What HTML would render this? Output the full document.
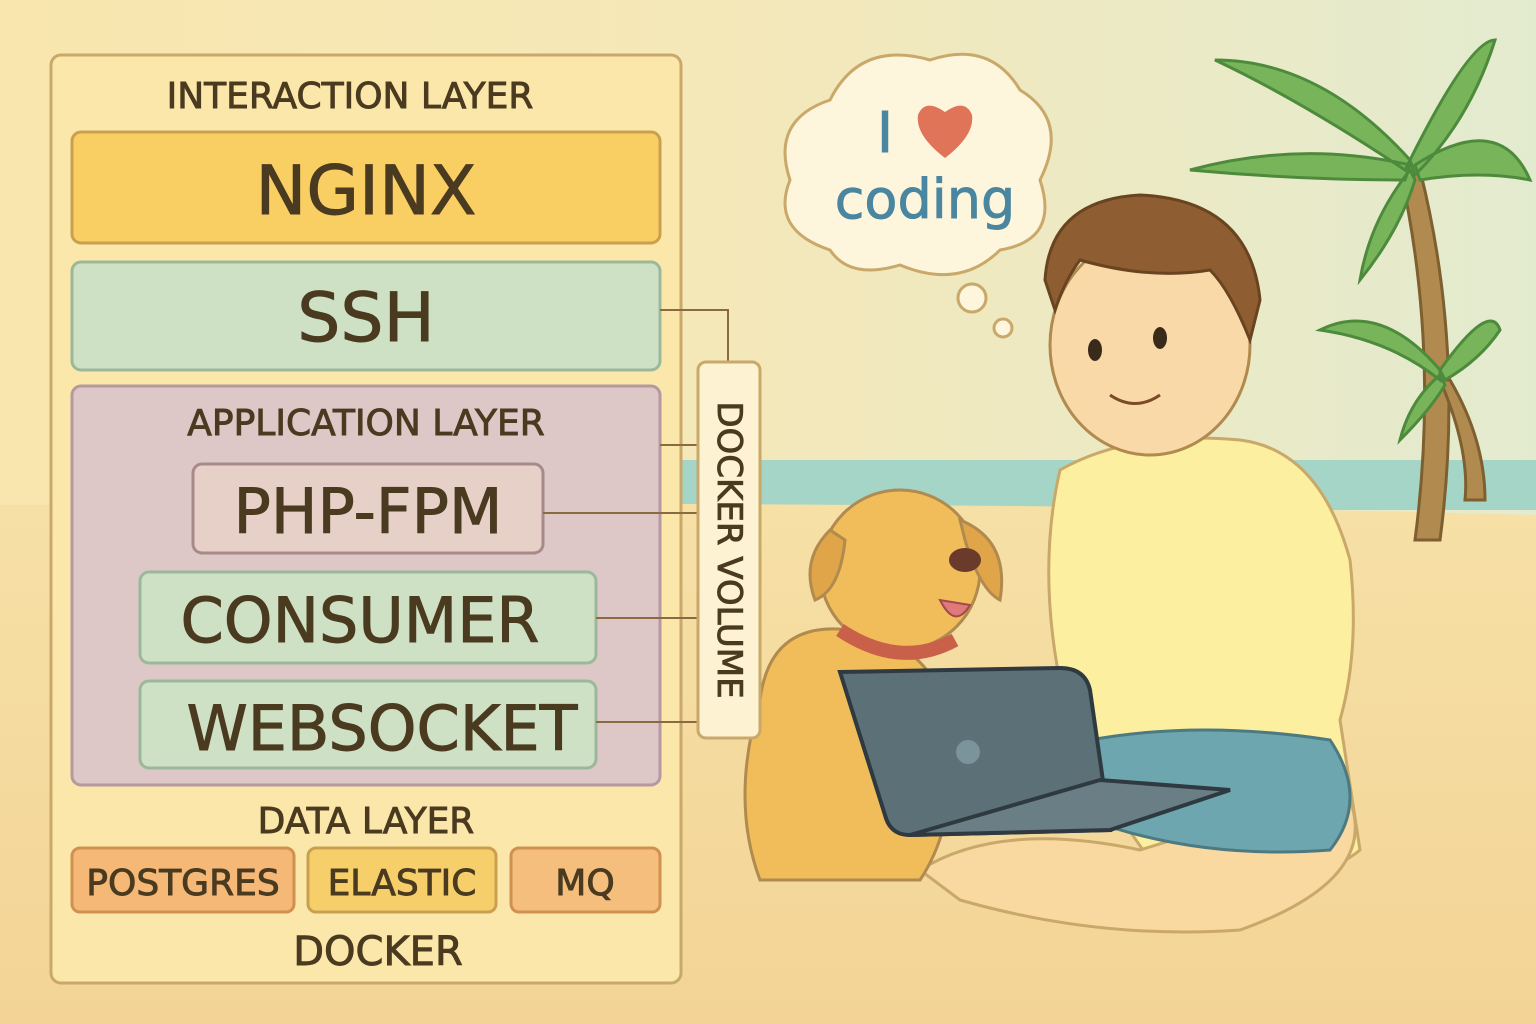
<!DOCTYPE html>
<html><head><meta charset="utf-8"><style>
html,body{margin:0;padding:0;width:1536px;height:1024px;overflow:hidden;background:#f8e6b0}
svg{display:block}
text{font-family:"DejaVu Sans","Liberation Sans",sans-serif;fill:#4a3a20;stroke:#4a3a20;stroke-width:0.9}
</style></head><body>
<svg width="1536" height="1024" viewBox="0 0 1536 1024">
<defs>
<linearGradient id="sky" x1="0" y1="0" x2="1" y2="0"><stop offset="0" stop-color="#f9e6ae"/><stop offset="0.45" stop-color="#f5e8b8"/><stop offset="1" stop-color="#e3ebcf"/></linearGradient>
<linearGradient id="sand" x1="0" y1="0" x2="0" y2="1"><stop offset="0" stop-color="#f6e0a6"/><stop offset="1" stop-color="#f3d496"/></linearGradient>
</defs>
<rect width="1536" height="1024" fill="url(#sky)"/>
<rect x="682" y="460" width="854" height="50" fill="#a4d5c6"/>
<path d="M0 505 Q1000 500 1536 515 L1536 1024 L0 1024 Z" fill="url(#sand)"/>

<g>
<path d="M1400 170 Q1440 350 1415 540 L1440 540 Q1465 350 1420 170 Z" fill="#b08a4e" stroke="#7e5f30" stroke-width="3"/>
<path d="M1410 160 Q1320 60 1215 60 Q1300 100 1405 170Z M1410 160 Q1470 40 1495 40 Q1470 120 1415 175Z M1410 165 Q1300 140 1190 170 Q1300 180 1405 180Z M1415 165 Q1500 110 1530 180 Q1480 170 1420 180Z M1410 170 Q1370 220 1360 280 Q1400 230 1415 180Z" fill="#78b55a" stroke="#4d8a3c" stroke-width="3"/>
<path d="M1440 380 Q1470 450 1465 500 L1485 500 Q1485 440 1450 380Z" fill="#b08a4e" stroke="#7e5f30" stroke-width="3"/>
<path d="M1440 370 Q1380 300 1320 330 Q1390 340 1440 380Z M1440 370 Q1490 300 1500 330 Q1480 360 1445 380Z M1440 375 Q1410 400 1400 440 Q1430 410 1445 385Z" fill="#78b55a" stroke="#4d8a3c" stroke-width="3"/>
</g>

<g>
<path d="M830 250 Q770 230 790 180 Q770 120 830 100 Q860 40 930 60 Q990 40 1020 90 Q1070 120 1040 180 Q1060 240 1000 250 Q960 290 900 265 Q850 280 830 250Z" fill="#fdf6dc" stroke="#c9a86a" stroke-width="3"/>
<circle cx="972" cy="298" r="14" fill="#fdf6dc" stroke="#c9a86a" stroke-width="3"/>
<circle cx="1003" cy="328" r="9" fill="#fdf6dc" stroke="#c9a86a" stroke-width="3"/>
<text x="885" y="152" font-size="56" style="fill:#4a86a0;stroke:#4a86a0" text-anchor="middle" font-family="Liberation Serif">I</text>
<path d="M945 158 Q915 135 918 115 Q925 98 945 112 Q965 98 972 115 Q975 135 945 158Z" fill="#e07458"/>
<text x="925" y="218" font-size="54" style="fill:#4a86a0;stroke:#4a86a0" text-anchor="middle">coding</text>
</g>

<g>
<path d="M1060 470 Q1130 430 1240 440 Q1320 450 1350 560 Q1360 650 1340 720 L1360 850 Q1300 900 1150 860 L1080 760 Q1030 600 1060 470Z" fill="#fcef9f" stroke="#c9a86a" stroke-width="3"/>
<path d="M920 870 Q1000 820 1140 850 Q1300 800 1350 800 Q1380 880 1240 930 Q1100 940 960 900 Z" fill="#f9d9a0" stroke="#c9a86a" stroke-width="3"/>
<path d="M1090 740 Q1200 720 1330 740 Q1370 800 1330 850 Q1200 860 1090 820Z" fill="#6ea6b0" stroke="#4d7a80" stroke-width="3"/>
<ellipse cx="1150" cy="345" rx="100" ry="110" fill="#fad9a8" stroke="#b08a4e" stroke-width="3"/>
<path d="M1045 280 Q1050 200 1140 195 Q1250 200 1260 300 L1250 340 Q1230 290 1210 270 Q1150 280 1080 260 Q1065 280 1055 310 Z" fill="#8e5e32" stroke="#6a4420" stroke-width="3"/>
<ellipse cx="1095" cy="350" rx="7" ry="11" fill="#3a2a1a"/>
<ellipse cx="1160" cy="338" rx="7" ry="11" fill="#3a2a1a"/>
<path d="M1110 395 Q1135 412 1160 395" fill="none" stroke="#7a4a2a" stroke-width="3"/>
</g>

<g>
<path d="M760 700 Q770 620 850 630 Q930 640 950 720 Q960 820 920 880 L760 880 Q730 800 760 700Z" fill="#f0bd5a" stroke="#b08a4e" stroke-width="3"/>
<ellipse cx="900" cy="570" rx="80" ry="80" fill="#f0bd5a" stroke="#b08a4e" stroke-width="3"/>
<path d="M830 530 Q800 560 815 600 Q840 590 845 540Z M960 520 Q1010 540 1000 600 Q980 590 965 540Z" fill="#e0a548" stroke="#b08a4e" stroke-width="3"/>
<path d="M840 630 Q900 670 955 640" fill="none" stroke="#c9604a" stroke-width="14"/>
<ellipse cx="965" cy="560" rx="16" ry="12" fill="#6a3a2a"/>
<path d="M940 600 Q955 630 970 605Z" fill="#e07a7a" stroke="#a04a4a" stroke-width="2"/>
</g>

<g>
<path d="M840 672 L1060 668 Q1085 668 1090 690 L1110 830 L910 835 Q890 835 885 815 Z" fill="#5c7078" stroke="#2f3a40" stroke-width="4"/>
<path d="M910 835 L1110 830 L1230 790 L1100 780Z" fill="#6a7e86" stroke="#2f3a40" stroke-width="4"/>
<circle cx="968" cy="752" r="12" fill="#7b939a"/>
</g>

<g>
<rect x="51" y="55" width="630" height="928" rx="10" fill="#fbe7a9" stroke="#c9a86a" stroke-width="3"/>
<text x="350" y="108" font-size="36" text-anchor="middle">INTERACTION LAYER</text>
<rect x="72" y="132" width="588" height="111" rx="9" fill="#f9cf63" stroke="#c9a050" stroke-width="3"/>
<text x="366" y="214" font-size="68" text-anchor="middle">NGINX</text>
<rect x="72" y="262" width="588" height="108" rx="9" fill="#cfe1c5" stroke="#9cb89a" stroke-width="3"/>
<text x="366" y="341" font-size="68" text-anchor="middle">SSH</text>
<rect x="72" y="386" width="588" height="399" rx="9" fill="#ddc7c7" stroke="#b49aa0" stroke-width="3"/>
<text x="366" y="435" font-size="36" text-anchor="middle">APPLICATION LAYER</text>
<rect x="193" y="464" width="350" height="89" rx="9" fill="#e7d0c8" stroke="#a98a8a" stroke-width="3"/>
<text x="368" y="533" font-size="62" text-anchor="middle">PHP-FPM</text>
<rect x="140" y="572" width="456" height="91" rx="9" fill="#cfe1c5" stroke="#9cb89a" stroke-width="3"/>
<text x="360" y="642" font-size="62" text-anchor="middle">CONSUMER</text>
<rect x="140" y="681" width="456" height="87" rx="9" fill="#cfe1c5" stroke="#9cb89a" stroke-width="3"/>
<text x="382" y="750" font-size="62" text-anchor="middle">WEBSOCKET</text>
<text x="366" y="833" font-size="36" text-anchor="middle">DATA LAYER</text>
<rect x="72" y="848" width="222" height="64" rx="8" fill="#f6b877" stroke="#d09050" stroke-width="3"/>
<text x="183" y="895" font-size="36" text-anchor="middle">POSTGRES</text>
<rect x="308" y="848" width="188" height="64" rx="8" fill="#f7cf6a" stroke="#c9a050" stroke-width="3"/>
<text x="402" y="895" font-size="36" text-anchor="middle">ELASTIC</text>
<rect x="511" y="848" width="149" height="64" rx="8" fill="#f6be7d" stroke="#d09050" stroke-width="3"/>
<text x="585" y="895" font-size="36" text-anchor="middle">MQ</text>
<text x="378" y="965" font-size="40" text-anchor="middle">DOCKER</text>
</g>

<g stroke="#8a6a40" stroke-width="2" fill="none">
<path d="M660 310 H728 V362"/>
<path d="M660 445 H698 M543 513 H698 M596 618 H698 M596 722 H698"/>
</g>
<rect x="698" y="362" width="62" height="376" rx="8" fill="#fdf3d2" stroke="#c9a86a" stroke-width="3"/>
<text x="0" y="0" font-size="34" text-anchor="middle" transform="translate(718,550) rotate(90)">DOCKER VOLUME</text>
</svg>
</body></html>
